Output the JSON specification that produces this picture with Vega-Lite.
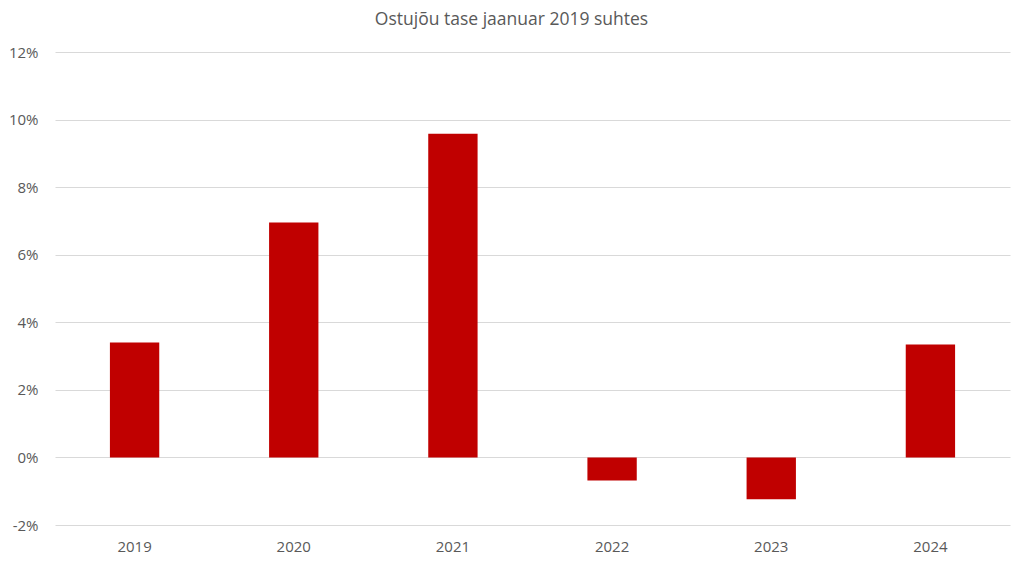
{
  "$schema": "https://vega.github.io/schema/vega-lite/v6.json",
  "autosize": "none",
  "width": 955,
  "height": 473,
  "padding": {"left": 55, "top": 52, "right": 14, "bottom": 41},
  "background": "white",
  "config": {
    "view": {"stroke": null},
    "font": "Open Sans"
  },
  "title": {
    "text": "Ostujõu tase jaanuar 2019 suhtes",
    "fontSize": 17.5,
    "font": "Open Sans",
    "fontWeight": "normal",
    "color": "#595959",
    "offset": 17,
    "dx": -21
  },
  "data": {
    "values": [
      {"year": "2019", "value": 0.0340},
      {"year": "2020", "value": 0.0695},
      {"year": "2021", "value": 0.0958},
      {"year": "2022", "value": -0.0068},
      {"year": "2023", "value": -0.0124},
      {"year": "2024", "value": 0.0334}
    ]
  },
  "mark": {"type": "bar", "color": "#C00000"},
  "encoding": {
    "x": {
      "field": "year",
      "type": "nominal",
      "title": null,
      "sort": null,
      "scale": {"paddingInner": 0.69, "paddingOuter": 0.345},
      "axis": {
        "labelAngle": 0,
        "domain": false,
        "ticks": false,
        "labelPadding": 14,
        "labelFontSize": 15,
        "labelColor": "#595959",
        "grid": false
      }
    },
    "y": {
      "field": "value",
      "type": "quantitative",
      "title": null,
      "scale": {"domain": [-0.02, 0.12], "nice": false},
      "axis": {
        "values": [-0.02, 0, 0.02, 0.04, 0.06, 0.08, 0.1, 0.12],
        "labelExpr": "replace(format(datum.value, '.0%'), '\u2212', '-')",
        "domain": false,
        "ticks": false,
        "labelPadding": 17,
        "labelFontSize": 15,
        "labelColor": "#595959",
        "gridColor": "#d9d9d9",
        "gridWidth": 1
      }
    }
  }
}
